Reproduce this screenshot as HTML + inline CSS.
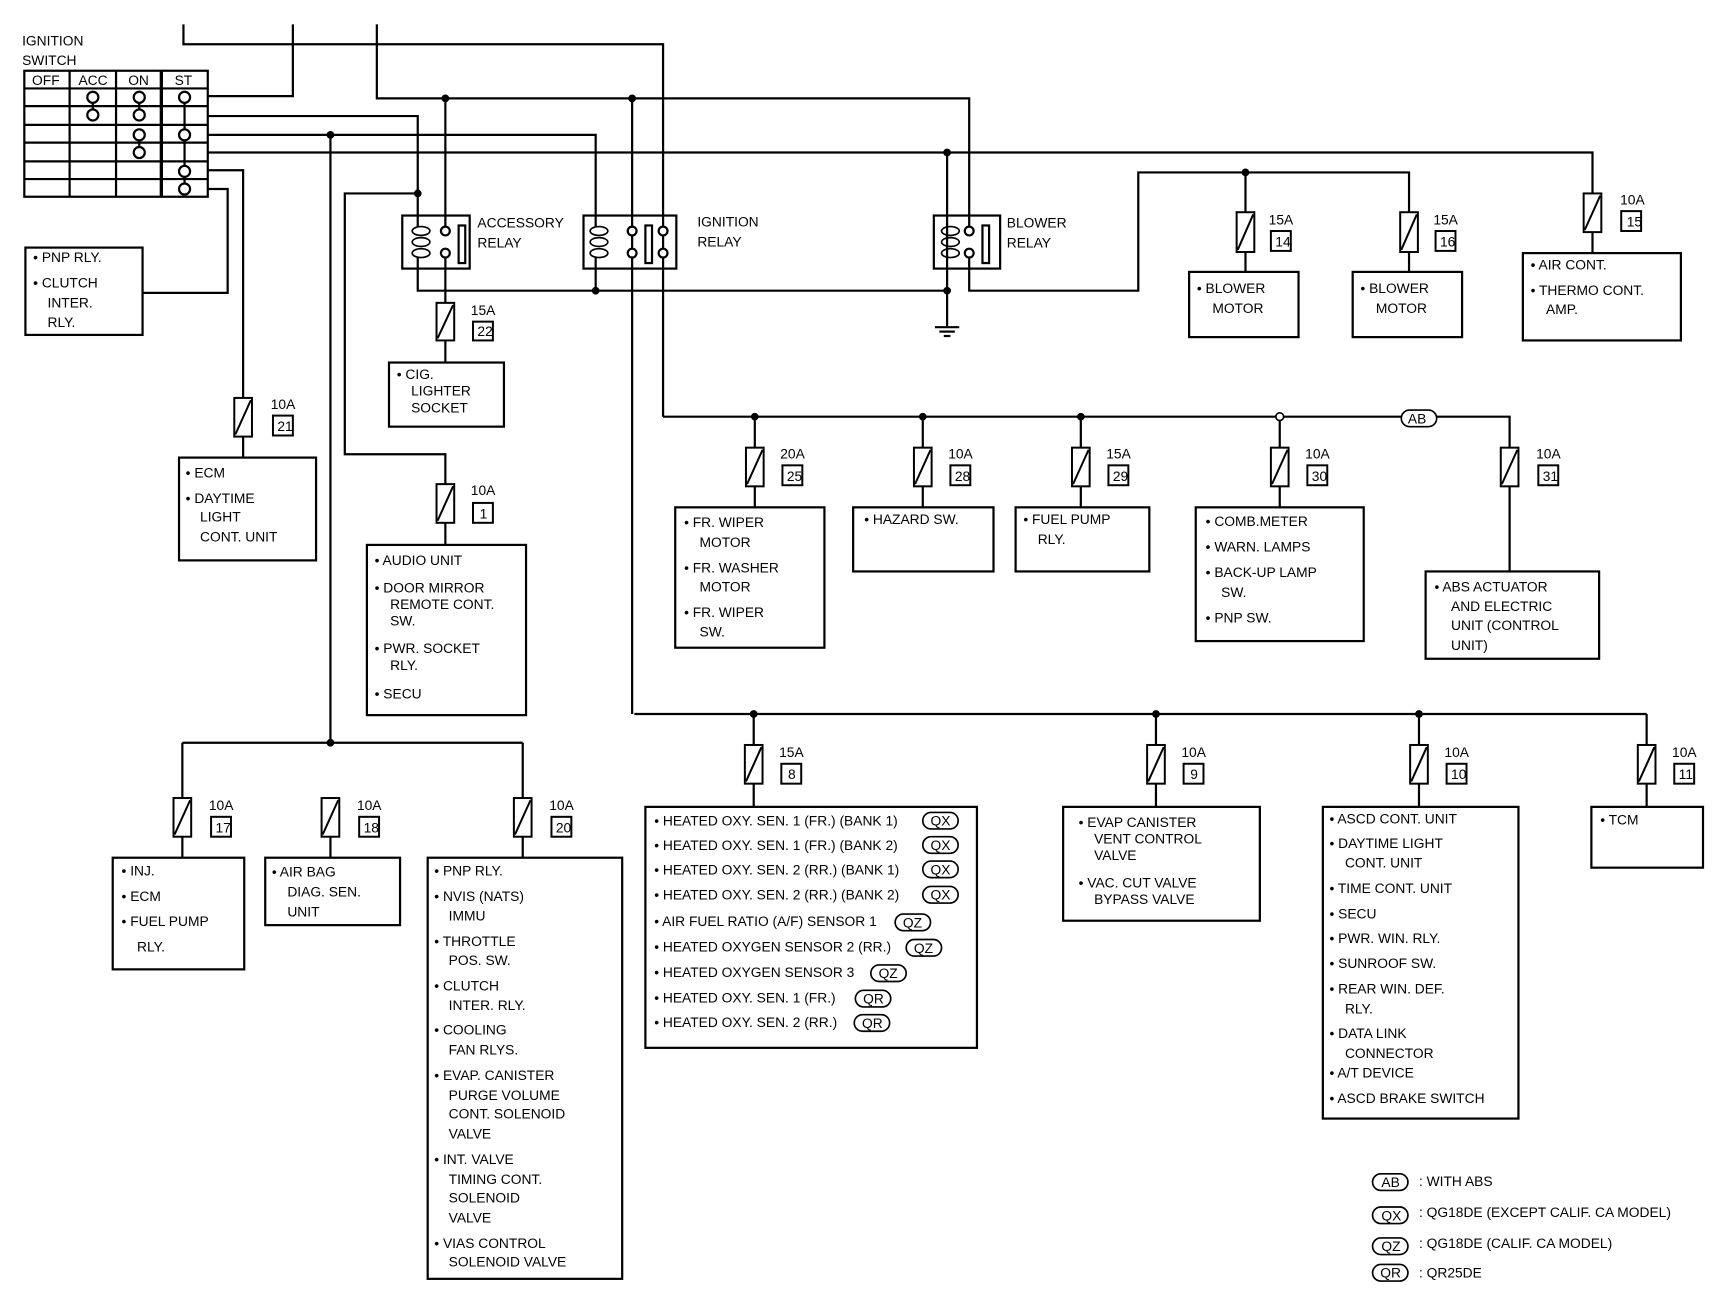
<!DOCTYPE html>
<html><head><meta charset="utf-8"><style>
html,body{margin:0;padding:0;background:#fff}
svg{display:block}
text{font-family:"Liberation Sans",Arial,sans-serif;font-size:12.5px;fill:#000}
.s{font-size:11.5px}
</style></head><body>
<svg width="1724" height="1312" viewBox="0 0 1560 1187" preserveAspectRatio="none" xmlns="http://www.w3.org/2000/svg">
<g fill="none" stroke="#000" stroke-width="2">
<!-- ignition switch -->
<rect x="22" y="64" width="166" height="114"/>
<line x1="22" y1="80" x2="188" y2="80"/><line x1="22" y1="96" x2="188" y2="96"/><line x1="22" y1="113" x2="188" y2="113"/><line x1="22" y1="129" x2="188" y2="129"/><line x1="22" y1="146" x2="188" y2="146"/><line x1="22" y1="162" x2="188" y2="162"/>
<line x1="63" y1="64" x2="63" y2="178"/><line x1="105" y1="64" x2="105" y2="178"/><line x1="146" y1="64" x2="146" y2="178" stroke-width="3"/>
<line x1="84" y1="88" x2="84" y2="104"/><line x1="126" y1="88" x2="126" y2="104"/><line x1="126" y1="122" x2="126" y2="138"/><line x1="167" y1="88" x2="167" y2="171"/>
<g fill="#fff"><circle cx="84" cy="88" r="5"/><circle cx="84" cy="104" r="5"/><circle cx="126" cy="88" r="5"/><circle cx="126" cy="104" r="5"/><circle cx="126" cy="122" r="5"/><circle cx="126" cy="138" r="5"/><circle cx="167" cy="88" r="5"/><circle cx="167" cy="122" r="5"/><circle cx="167" cy="155" r="5"/><circle cx="167" cy="171" r="5"/></g>
<!-- top wires -->
<polyline points="166,22 166,40 600,40 600,377"/>
<polyline points="188,87 265,87 265,22"/>
<polyline points="341,22 341,89 877,89 877,205"/>
<polyline points="188,105 378,105 378,205"/>
<polyline points="188,122 539,122 539,205"/>
<polyline points="188,138 1441,138 1441,175"/>
<polyline points="188,154 220,154 220,360"/>
<polyline points="188,171 206,171 206,265 129,265"/>
<line x1="299" y1="122" x2="299" y2="672"/>
<polyline points="378,175 312,175 312,411 403,411 403,438"/>
<line x1="403" y1="89" x2="403" y2="205"/>
<line x1="572" y1="89" x2="572" y2="646"/>
<line x1="857" y1="138" x2="857" y2="295"/>
<polyline points="378,233 378,263 857,263"/>
<line x1="539" y1="233" x2="539" y2="263"/>
<line x1="403" y1="233" x2="403" y2="274"/>
<polyline points="877,233 877,263 1030,263 1030,156 1275,156 1275,192"/>
<line x1="1127" y1="156" x2="1127" y2="192"/>
<line x1="1127" y1="228" x2="1127" y2="246"/><line x1="1275" y1="228" x2="1275" y2="246"/><line x1="1441" y1="210" x2="1441" y2="229"/>
<line x1="846" y1="296" x2="868" y2="296"/><line x1="850" y1="300" x2="864" y2="300"/><line x1="854" y1="304" x2="860" y2="304"/>
<!-- relays -->
<rect x="364" y="195" width="61" height="48"/><rect x="528" y="195" width="84" height="48"/><rect x="845" y="195" width="60" height="48"/>
<g stroke-width="1.5">
<ellipse cx="381" cy="209" rx="8" ry="4"/><ellipse cx="381" cy="219" rx="8" ry="4"/><ellipse cx="381" cy="229" rx="8" ry="4"/>
<ellipse cx="542" cy="209" rx="8" ry="4"/><ellipse cx="542" cy="219" rx="8" ry="4"/><ellipse cx="542" cy="229" rx="8" ry="4"/>
<ellipse cx="860" cy="209" rx="8" ry="4"/><ellipse cx="860" cy="219" rx="8" ry="4"/><ellipse cx="860" cy="229" rx="8" ry="4"/>
</g>
<g fill="#fff"><circle cx="403" cy="209" r="4"/><circle cx="403" cy="229" r="4"/><circle cx="572" cy="209" r="4"/><circle cx="572" cy="229" r="4"/><circle cx="600" cy="209" r="4"/><circle cx="600" cy="229" r="4"/><circle cx="877" cy="209" r="4"/><circle cx="877" cy="229" r="4"/></g>
<rect x="415" y="204" width="6" height="34"/><rect x="584" y="204" width="6" height="34"/><rect x="608" y="204" width="0.1" height="0.1" stroke="none"/><rect x="605" y="204" width="0" height="0" stroke="none"/>
<rect x="889" y="204" width="6" height="34"/>
<!-- buses -->
<polyline points="600,377 1366,377 1366,405"/>
<line x1="574" y1="646" x2="1490" y2="646"/>
<line x1="165" y1="672" x2="473" y2="672"/>
<line x1="165" y1="672" x2="165" y2="722"/><line x1="473" y1="672" x2="473" y2="722"/>
<line x1="683" y1="377" x2="683" y2="405"/><line x1="835" y1="377" x2="835" y2="405"/><line x1="978" y1="377" x2="978" y2="405"/><line x1="1158" y1="377" x2="1158" y2="405"/>
<line x1="683" y1="440" x2="683" y2="459"/><line x1="835" y1="440" x2="835" y2="459"/><line x1="978" y1="440" x2="978" y2="459"/><line x1="1158" y1="440" x2="1158" y2="459"/><line x1="1366" y1="440" x2="1366" y2="517"/>
<line x1="682" y1="646" x2="682" y2="674"/><line x1="1046" y1="646" x2="1046" y2="674"/><line x1="1284" y1="646" x2="1284" y2="674"/><line x1="1490" y1="646" x2="1490" y2="674"/>
<line x1="682" y1="709" x2="682" y2="730"/><line x1="1046" y1="709" x2="1046" y2="730"/><line x1="1284" y1="709" x2="1284" y2="730"/><line x1="1490" y1="709" x2="1490" y2="730"/>
<line x1="165" y1="757" x2="165" y2="776"/><line x1="299" y1="757" x2="299" y2="776"/><line x1="473" y1="757" x2="473" y2="776"/>
<line x1="220" y1="395" x2="220" y2="414"/><line x1="403" y1="308" x2="403" y2="328"/><line x1="403" y1="473" x2="403" y2="493"/>
<!-- boxes -->
<rect x="23" y="224" width="106" height="79"/>
<rect x="162" y="414" width="124" height="93"/>
<rect x="352" y="328" width="104" height="58"/>
<rect x="332" y="493" width="144" height="154"/>
<rect x="611" y="459" width="135" height="127"/>
<rect x="772" y="459" width="127" height="58"/>
<rect x="919" y="459" width="121" height="58"/>
<rect x="1082" y="459" width="152" height="121"/>
<rect x="1290" y="517" width="157" height="79"/>
<rect x="1076" y="246" width="99" height="59"/>
<rect x="1224" y="246" width="99" height="59"/>
<rect x="1378" y="229" width="143" height="79"/>
<rect x="102" y="776" width="119" height="101"/>
<rect x="240" y="776" width="122" height="61"/>
<rect x="387" y="776" width="176" height="381"/>
<rect x="584" y="730" width="300" height="218"/>
<rect x="962" y="730" width="178" height="103"/>
<rect x="1197" y="730" width="177" height="282"/>
<rect x="1440" y="730" width="101" height="55"/>
<!-- fuses -->
<g stroke-width="1.8">
<rect x="395" y="274" width="16" height="34"/><line x1="396" y1="306" x2="410" y2="276"/><rect x="428" y="291" width="18" height="17"/>
<rect x="212" y="360" width="16" height="35"/><line x1="213" y1="393" x2="227" y2="362"/><rect x="247" y="376" width="18" height="18"/>
<rect x="395" y="438" width="16" height="35"/><line x1="396" y1="471" x2="410" y2="440"/><rect x="428" y="455" width="18" height="18"/>
<rect x="675" y="405" width="16" height="35"/><line x1="676" y1="438" x2="690" y2="407"/><rect x="708" y="421" width="18" height="18"/>
<rect x="827" y="405" width="16" height="35"/><line x1="828" y1="438" x2="842" y2="407"/><rect x="860" y="421" width="18" height="18"/>
<rect x="970" y="405" width="16" height="35"/><line x1="971" y1="438" x2="985" y2="407"/><rect x="1003" y="421" width="18" height="18"/>
<rect x="1150" y="405" width="16" height="35"/><line x1="1151" y1="438" x2="1165" y2="407"/><rect x="1183" y="421" width="18" height="18"/>
<rect x="1358" y="405" width="16" height="35"/><line x1="1359" y1="438" x2="1373" y2="407"/><rect x="1392" y="421" width="18" height="18"/>
<rect x="1119" y="192" width="16" height="36"/><line x1="1120" y1="226" x2="1134" y2="194"/><rect x="1150" y="209" width="18" height="18"/>
<rect x="1267" y="192" width="16" height="36"/><line x1="1268" y1="226" x2="1282" y2="194"/><rect x="1299" y="209" width="18" height="18"/>
<rect x="1433" y="175" width="16" height="35"/><line x1="1434" y1="208" x2="1448" y2="177"/><rect x="1467" y="191" width="18" height="18"/>
<rect x="674" y="674" width="16" height="35"/><line x1="675" y1="707" x2="689" y2="676"/><rect x="707" y="691" width="18" height="18"/>
<rect x="1038" y="674" width="16" height="35"/><line x1="1039" y1="707" x2="1053" y2="676"/><rect x="1071" y="691" width="18" height="18"/>
<rect x="1276" y="674" width="16" height="35"/><line x1="1277" y1="707" x2="1291" y2="676"/><rect x="1309" y="691" width="18" height="18"/>
<rect x="1482" y="674" width="16" height="35"/><line x1="1483" y1="707" x2="1497" y2="676"/><rect x="1515" y="691" width="18" height="18"/>
<rect x="157" y="722" width="16" height="35"/><line x1="158" y1="755" x2="172" y2="724"/><rect x="191" y="739" width="18" height="18"/>
<rect x="291" y="722" width="16" height="35"/><line x1="292" y1="755" x2="306" y2="724"/><rect x="325" y="739" width="18" height="18"/>
<rect x="465" y="722" width="16" height="35"/><line x1="466" y1="755" x2="480" y2="724"/><rect x="499" y="739" width="18" height="18"/>
</g>
<!-- ovals -->
<g stroke-width="1.5">
<rect x="1268" y="371" width="32" height="15" rx="7.5" fill="#fff"/>
<rect x="835" y="735" width="32" height="15" rx="7.5"/><rect x="835" y="757" width="32" height="15" rx="7.5"/><rect x="835" y="779" width="32" height="15" rx="7.5"/><rect x="835" y="802" width="32" height="15" rx="7.5"/>
<rect x="810" y="827" width="32" height="15" rx="7.5"/><rect x="820" y="850" width="32" height="15" rx="7.5"/><rect x="788" y="873" width="32" height="15" rx="7.5"/>
<rect x="774" y="896" width="32" height="15" rx="7.5"/><rect x="773" y="918" width="32" height="15" rx="7.5"/>
<rect x="1242" y="1062" width="32" height="15" rx="7.5"/><rect x="1242" y="1092" width="32" height="15" rx="7.5"/><rect x="1242" y="1120" width="32" height="15" rx="7.5"/><rect x="1242" y="1144" width="32" height="15" rx="7.5"/>
</g>
</g>
<g fill="#000">
<circle cx="299" cy="122" r="3.5"/><circle cx="378" cy="175" r="3.5"/><circle cx="403" cy="89" r="3.5"/><circle cx="572" cy="89" r="3.5"/><circle cx="857" cy="138" r="3.5"/><circle cx="539" cy="263" r="3.5"/><circle cx="857" cy="263" r="3.5"/><circle cx="1127" cy="156" r="3.5"/>
<circle cx="683" cy="377" r="3.5"/><circle cx="835" cy="377" r="3.5"/><circle cx="978" cy="377" r="3.5"/>
<circle cx="682" cy="646" r="3.5"/><circle cx="1046" cy="646" r="3.5"/><circle cx="1284" cy="646" r="3.5"/><circle cx="299" cy="672" r="3.5"/>
</g>
<circle cx="1158" cy="377" r="3.5" fill="#fff" stroke="#000" stroke-width="1.5"/>
<!-- texts -->
<text x="20" y="41">IGNITION</text><text x="20" y="59">SWITCH</text>
<text x="29" y="77">OFF</text><text x="71" y="77">ACC</text><text x="116" y="77">ON</text><text x="158" y="77">ST</text>
<text x="432" y="206">ACCESSORY</text><text x="432" y="224">RELAY</text>
<text x="631" y="205">IGNITION</text><text x="631" y="223">RELAY</text>
<text x="911" y="206">BLOWER</text><text x="911" y="224">RELAY</text>
<g class="s">
<text x="426" y="285">15A</text><text x="432" y="304">22</text>
<text x="245" y="370">10A</text><text x="251" y="390">21</text>
<text x="426" y="448">10A</text><text x="434" y="469">1</text>
<text x="706" y="415">20A</text><text x="712" y="435">25</text>
<text x="858" y="415">10A</text><text x="864" y="435">28</text>
<text x="1001" y="415">15A</text><text x="1007" y="435">29</text>
<text x="1181" y="415">10A</text><text x="1187" y="435">30</text>
<text x="1390" y="415">10A</text><text x="1396" y="435">31</text>
<text x="1148" y="203">15A</text><text x="1154" y="223">14</text>
<text x="1297" y="203">15A</text><text x="1303" y="223">16</text>
<text x="1466" y="185">10A</text><text x="1472" y="205">15</text>
<text x="705" y="685">15A</text><text x="713" y="705">8</text>
<text x="1069" y="685">10A</text><text x="1077" y="705">9</text>
<text x="1307" y="685">10A</text><text x="1313" y="705">10</text>
<text x="1513" y="685">10A</text><text x="1519" y="705">11</text>
<text x="189" y="733">10A</text><text x="195" y="753">17</text>
<text x="323" y="733">10A</text><text x="329" y="753">18</text>
<text x="497" y="733">10A</text><text x="503" y="753">20</text>
<text x="1274" y="383">AB</text>
<text x="842" y="747">QX</text><text x="842" y="769">QX</text><text x="842" y="791">QX</text><text x="842" y="814">QX</text>
<text x="817" y="839">QZ</text><text x="827" y="862">QZ</text><text x="795" y="885">QZ</text>
<text x="781" y="908">QR</text><text x="780" y="930">QR</text>
<text x="1250" y="1074">AB</text><text x="1250" y="1104">QX</text><text x="1250" y="1132">QZ</text><text x="1249" y="1156">QR</text>
<text x="1284" y="1073">: WITH ABS</text><text x="1284" y="1101">: QG18DE (EXCEPT CALIF. CA MODEL)</text><text x="1284" y="1129">: QG18DE (CALIF. CA MODEL)</text><text x="1284" y="1156">: QR25DE</text>
</g>
<text x="30" y="237">• PNP RLY.</text><text x="30" y="260">• CLUTCH</text><text x="43" y="278">INTER.</text><text x="43" y="296">RLY.</text>
<text x="168" y="432">• ECM</text><text x="168" y="455">• DAYTIME</text><text x="181" y="472">LIGHT</text><text x="181" y="490">CONT. UNIT</text>
<text x="359" y="343">• CIG.</text><text x="372" y="358">LIGHTER</text><text x="372" y="373">SOCKET</text>
<text x="339" y="511">• AUDIO UNIT</text><text x="339" y="536">• DOOR MIRROR</text><text x="353" y="551">REMOTE CONT.</text><text x="353" y="566">SW.</text><text x="339" y="591">• PWR. SOCKET</text><text x="353" y="606">RLY.</text><text x="339" y="632">• SECU</text>
<text x="619" y="477">• FR. WIPER</text><text x="633" y="495">MOTOR</text><text x="619" y="518">• FR. WASHER</text><text x="633" y="535">MOTOR</text><text x="619" y="558">• FR. WIPER</text><text x="633" y="576">SW.</text>
<text x="782" y="474">• HAZARD SW.</text>
<text x="926" y="474">• FUEL PUMP</text><text x="939" y="492">RLY.</text>
<text x="1091" y="476">• COMB.METER</text><text x="1091" y="499">• WARN. LAMPS</text><text x="1091" y="522">• BACK-UP LAMP</text><text x="1105" y="540">SW.</text><text x="1091" y="563">• PNP SW.</text>
<text x="1298" y="535">• ABS ACTUATOR</text><text x="1313" y="553">AND ELECTRIC</text><text x="1313" y="570">UNIT (CONTROL</text><text x="1313" y="588">UNIT)</text>
<text x="1083" y="265">• BLOWER</text><text x="1097" y="283">MOTOR</text>
<text x="1231" y="265">• BLOWER</text><text x="1245" y="283">MOTOR</text>
<text x="1385" y="244">• AIR CONT.</text><text x="1385" y="267">• THERMO CONT.</text><text x="1399" y="284">AMP.</text>
<text x="110" y="792">• INJ.</text><text x="110" y="815">• ECM</text><text x="110" y="838">• FUEL PUMP</text><text x="124" y="861">RLY.</text>
<text x="246" y="793">• AIR BAG</text><text x="260" y="811">DIAG. SEN.</text><text x="260" y="829">UNIT</text>
<text x="393" y="792">• PNP RLY.</text><text x="393" y="815">• NVIS (NATS)</text><text x="406" y="833">IMMU</text>
<text x="393" y="856">• THROTTLE</text><text x="406" y="873">POS. SW.</text>
<text x="393" y="896">• CLUTCH</text><text x="406" y="914">INTER. RLY.</text>
<text x="393" y="936">• COOLING</text><text x="406" y="954">FAN RLYS.</text>
<text x="393" y="977">• EVAP. CANISTER</text><text x="406" y="995">PURGE VOLUME</text><text x="406" y="1012">CONT. SOLENOID</text><text x="406" y="1030">VALVE</text>
<text x="393" y="1053">• INT. VALVE</text><text x="406" y="1071">TIMING CONT.</text><text x="406" y="1088">SOLENOID</text><text x="406" y="1106">VALVE</text>
<text x="393" y="1129">• VIAS CONTROL</text><text x="406" y="1146">SOLENOID VALVE</text>
<text x="592" y="747">• HEATED OXY. SEN. 1 (FR.) (BANK 1)</text>
<text x="592" y="769">• HEATED OXY. SEN. 1 (FR.) (BANK 2)</text>
<text x="592" y="791">• HEATED OXY. SEN. 2 (RR.) (BANK 1)</text>
<text x="592" y="814">• HEATED OXY. SEN. 2 (RR.) (BANK 2)</text>
<text x="592" y="838">• AIR FUEL RATIO (A/F) SENSOR 1</text>
<text x="592" y="861">• HEATED OXYGEN SENSOR 2 (RR.)</text>
<text x="592" y="884">• HEATED OXYGEN SENSOR 3</text>
<text x="592" y="907">• HEATED OXY. SEN. 1 (FR.)</text>
<text x="592" y="929">• HEATED OXY. SEN. 2 (RR.)</text>
<text x="976" y="748">• EVAP CANISTER</text><text x="990" y="763">VENT CONTROL</text><text x="990" y="778">VALVE</text><text x="976" y="803">• VAC. CUT VALVE</text><text x="990" y="818">BYPASS VALVE</text>
<text x="1203" y="745">• ASCD CONT. UNIT</text><text x="1203" y="767">• DAYTIME LIGHT</text><text x="1217" y="785">CONT. UNIT</text><text x="1203" y="808">• TIME CONT. UNIT</text><text x="1203" y="831">• SECU</text><text x="1203" y="853">• PWR. WIN. RLY.</text><text x="1203" y="876">• SUNROOF SW.</text><text x="1203" y="899">• REAR WIN. DEF.</text><text x="1217" y="917">RLY.</text><text x="1203" y="939">• DATA LINK</text><text x="1217" y="957">CONNECTOR</text><text x="1203" y="975">• A/T DEVICE</text><text x="1203" y="998">• ASCD BRAKE SWITCH</text>
<text x="1448" y="746">• TCM</text>
</svg>
</body></html>
